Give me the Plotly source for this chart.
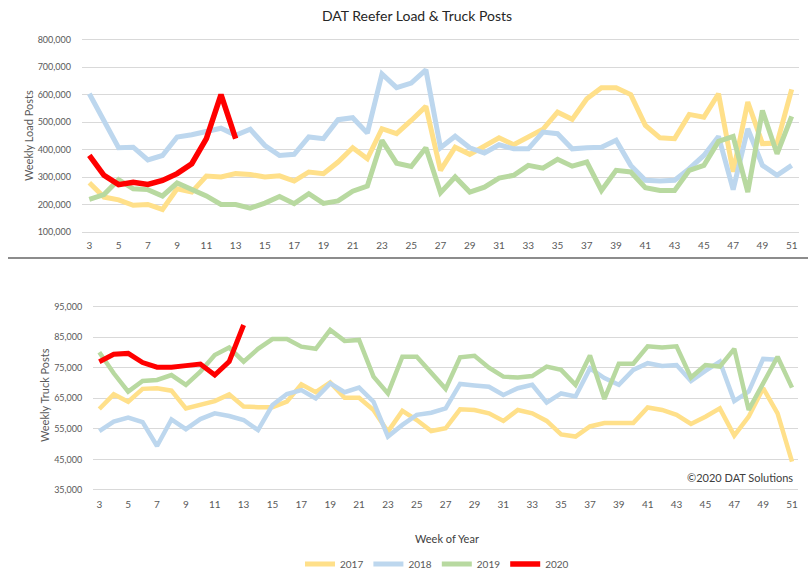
import plotly.graph_objects as go

W, H = 808, 570

weeks = list(range(3, 52))
tick_weeks = list(range(3, 52, 2))
years = ["2017", "2018", "2019", "2020"]
colors = {"2017": "#FFE08A", "2018": "#BDD7EE", "2019": "#B8D9A0", "2020": "#FF0000"}

load_2017 = [280, 228, 218, 198, 201, 183, 258, 246, 304, 301, 313, 310, 301, 305, 286, 319, 313,
             355, 407, 367, 476, 458, 506, 557, 325, 409, 383, 415, 443, 418, 446, 474, 536, 510,
             585, 625, 625, 600, 488, 443, 440, 528, 518, 603, 320, 573, 422, 424, 619]
load_2018 = [603, 506, 407, 409, 363, 379, 446, 454, 464, 478, 452, 474, 415, 379, 383, 446, 440,
             509, 516, 460, 675, 625, 642, 690, 407, 449, 407, 388, 418, 403, 403, 464, 458, 403,
             407, 409, 434, 343, 289, 286, 289, 331, 379, 448, 255, 476, 343, 307, 343]
load_2019 = [220, 237, 291, 258, 255, 232, 279, 256, 232, 201, 201, 188, 206, 230, 204, 240, 205,
             214, 249, 268, 434, 351, 339, 407, 244, 301, 246, 264, 297, 307, 343, 333, 365, 340,
             355, 252, 325, 319, 262, 252, 252, 325, 343, 430, 448, 246, 542, 385, 521]
load_2020 = [379, 307, 273, 282, 274, 288, 313, 349, 440, 600, 440]

truck_2017 = [61.5, 66.3, 63.9, 68.1, 68.3, 67.5, 61.7, 63.0, 64.1, 66.3, 62.3, 62.1, 62.1, 63.9,
              69.6, 67.0, 70.2, 65.2, 65.2, 61.2, 54.1, 60.9, 57.9, 54.3, 55.2, 61.4, 61.2, 60.1,
              57.6, 61.2, 60.1, 57.6, 53.2, 52.5, 55.8, 56.9, 56.9, 56.9, 62.0, 61.2, 59.6, 56.6,
              59.0, 61.7, 52.8, 59.0, 68.3, 60.1, 44.3]
truck_2018 = [54.3, 57.4, 58.7, 57.2, 49.4, 58.1, 54.9, 58.2, 60.1, 59.2, 57.9, 54.6, 62.8, 66.4,
              67.7, 65.0, 69.9, 67.0, 68.5, 63.9, 52.5, 56.3, 59.6, 60.3, 61.7, 69.7, 69.2, 68.8,
              66.1, 68.3, 69.4, 63.6, 66.6, 65.6, 74.8, 71.6, 69.4, 74.3, 76.5, 75.6, 75.9, 70.7,
              74.0, 77.0, 64.1, 67.2, 77.9, 77.6, None]
truck_2019 = [80.1, 73.2, 67.2, 70.7, 71.0, 72.6, 69.4, 73.7, 79.2, 81.6, 77.0, 81.2, 84.4, 84.4,
              81.9, 81.2, 87.4, 83.8, 84.1, 72.1, 66.6, 78.6, 78.6, 73.2, 68.1, 78.4, 78.9, 75.0,
              72.1, 71.8, 72.3, 75.4, 74.3, 69.4, 79.0, 64.8, 76.3, 76.3, 82.0, 81.6, 82.0, 71.8,
              75.9, 75.4, 81.2, 61.2, 69.9, 78.6, 68.5]
truck_2020 = [77.0, 79.4, 79.7, 76.7, 75.2, 75.2, 75.7, 76.2, 72.6, 77.0, 89.0]

load_ticks = [100000, 200000, 300000, 400000, 500000, 600000, 700000, 800000]
truck_ticks = [35000, 45000, 55000, 65000, 75000, 85000, 95000]

load = {"2017": load_2017, "2018": load_2018, "2019": load_2019, "2020": load_2020}
truck = {"2017": truck_2017, "2018": truck_2018, "2019": truck_2019, "2020": truck_2020}

FONT = "Lato"
TICK_COLOR = "#595959"

fig = go.Figure()
for y in years:
    vals = [v * 1000 if v is not None else None for v in load[y]]
    fig.add_trace(go.Scatter(
        x=weeks[:len(vals)], y=vals, mode="lines", name=y, legendgroup=y,
        line=dict(color=colors[y], width=5.5 if y == "2020" else 5),
        xaxis="x", yaxis="y", showlegend=True))
for y in years:
    vals = [v * 1000 if v is not None else None for v in truck[y]]
    fig.add_trace(go.Scatter(
        x=weeks[:len(vals)], y=vals, mode="lines", name=y, legendgroup=y,
        line=dict(color=colors[y], width=5 if y == "2020" else 4.5),
        xaxis="x2", yaxis="y2", showlegend=False))

def px_x(p):
    return p / W

def px_y(p):
    return (H - p) / H

axis_common = dict(showgrid=False, zeroline=False, showline=False, ticks="",
                   tickfont=dict(family=FONT, size=10, color=TICK_COLOR))

fig.update_layout(
    width=W, height=H,
    margin=dict(l=0, r=0, t=0, b=0, autoexpand=False),
    paper_bgcolor="white", plot_bgcolor="white",
    font=dict(family=FONT, color="#404040"),
    xaxis=dict(domain=[px_x(82), px_x(799)], range=[2.5, 51.5], anchor="y",
               tickmode="array", tickvals=tick_weeks, ticktext=[str(t) for t in tick_weeks],
               ticklabelstandoff=4, **axis_common),
    yaxis=dict(domain=[px_y(233.7), px_y(38.1)], range=[95000, 805000], anchor="x",
               tickmode="array", tickvals=load_ticks, tickformat=",d",
               showgrid=True, gridcolor="#D9D9D9", gridwidth=1.2,
               zeroline=False, showline=False, ticks="", ticklabelstandoff=10,
               tickfont=dict(family=FONT, size=9, color=TICK_COLOR)),
    xaxis2=dict(domain=[px_x(93.3), px_x(798)], range=[2.584, 51.416], anchor="y2",
                tickmode="array", tickvals=tick_weeks, ticktext=[str(t) for t in tick_weeks],
                ticklabelstandoff=4, **axis_common),
    yaxis2=dict(domain=[px_y(493.05), px_y(303.6)], range=[34000, 96000], anchor="x2",
                tickmode="array", tickvals=truck_ticks, tickformat=",d",
                showgrid=True, gridcolor="#D9D9D9", gridwidth=1.2,
                zeroline=False, showline=False, ticks="", ticklabelstandoff=10,
                tickfont=dict(family=FONT, size=9, color=TICK_COLOR)),
    legend=dict(orientation="h", x=px_x(437), xanchor="center", y=px_y(564), yanchor="middle",
                font=dict(family=FONT, size=10, color=TICK_COLOR), itemwidth=30,
                bgcolor="rgba(0,0,0,0)", traceorder="normal", tracegroupgap=0),
    showlegend=True,
)

fig.add_annotation(text="DAT Reefer Load & Truck Posts", xref="paper", yref="paper",
                   x=px_x(417), y=px_y(16), xanchor="center", yanchor="middle",
                   showarrow=False, font=dict(family=FONT, size=14, color="#262626"))
fig.add_annotation(text="Weekly Load Posts", xref="paper", yref="paper",
                   x=px_x(29), y=px_y(135), xanchor="center", yanchor="middle", textangle=-90,
                   showarrow=False, font=dict(family=FONT, size=11, color=TICK_COLOR))
fig.add_annotation(text="Weekly Truck Posts", xref="paper", yref="paper",
                   x=px_x(45), y=px_y(395), xanchor="center", yanchor="middle", textangle=-90,
                   showarrow=False, font=dict(family=FONT, size=11, color=TICK_COLOR))
fig.add_annotation(text="Week of Year", xref="paper", yref="paper",
                   x=px_x(447), y=px_y(538), xanchor="center", yanchor="middle",
                   showarrow=False, font=dict(family=FONT, size=11, color="#404040"))
fig.add_annotation(text="\u00a92020 DAT Solutions", xref="paper", yref="paper",
                   x=px_x(795), y=px_y(477.5), xanchor="right", yanchor="middle",
                   showarrow=False, font=dict(family=FONT, size=11, color="#404040"))

fig.add_shape(type="line", xref="paper", yref="paper",
              x0=px_x(8), x1=1, y0=px_y(258), y1=px_y(258),
              line=dict(color="#8C8C8C", width=2))

fig.write_html("out.html", config={"displayModeBar": False},
               post_script="document.body.style.margin='0';")
